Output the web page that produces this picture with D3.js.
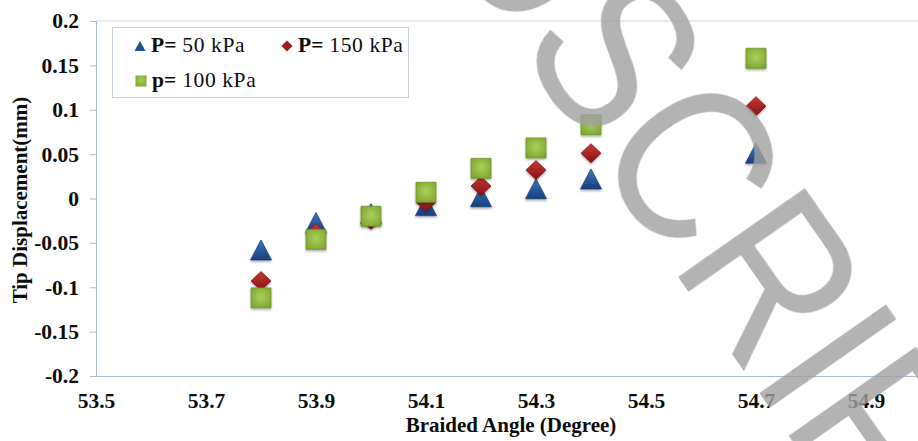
<!DOCTYPE html>
<html>
<head>
<meta charset="utf-8">
<script src="https://cdn.jsdelivr.net/npm/d3@7"></script>
<style>
  body { margin: 0; background: #fff; }
  svg { display: block; }
</style>
</head>
<body>
<svg id="chart" width="918" height="441"></svg>
<script>
// Braided angle (degree) of each sample
const angles = [53.8, 53.9, 54.0, 54.1, 54.2, 54.3, 54.4, 54.7];
// Tip displacement (mm) per pressure level
const p50  = [-0.058, -0.027, -0.017, -0.008, 0.002, 0.011, 0.022, 0.051];
const p150 = [-0.093, -0.039, -0.024, -0.004, 0.014, 0.032, 0.051, 0.104];
const p100 = [-0.112, -0.046, -0.020, 0.007, 0.034, 0.057, 0.083, 0.158];

const xTicks = [53.5, 53.7, 53.9, 54.1, 54.3, 54.5, 54.7, 54.9];
const yTicks = [-0.2, -0.15, -0.1, -0.05, 0, 0.05, 0.1, 0.15, 0.2];
const xDomain = [53.5, 55.0];
const yDomain = [-0.2, 0.2];

const legendBold = ["P=", "P=", "p="];
const legendText = [" 50 kPa", " 150 kPa", " 100 kPa"];
const xTitle = "Braided Angle (Degree)";
const yTitle = "Tip Displacement(mm)";
const watermark = "MANUSCRIPT";

const svg = d3.select("#chart");
const plotLeft = 96, plotTop = 21, plotBottom = 376;

const x = d3.scaleLinear().domain(xDomain).range([plotLeft, plotLeft + 825]);
const y = d3.scaleLinear().domain(yDomain).range([plotBottom, plotTop]);

const serif = "'Liberation Serif', 'Times New Roman', serif";
const axisColor = "#a8bbd6";

// ---- gradients & shadow ----
const defs = svg.append("defs");
const triG = defs.append("linearGradient").attr("id", "triG").attr("x1", 0).attr("y1", 0).attr("x2", 0).attr("y2", 1);
triG.append("stop").attr("offset", "0%").attr("stop-color", "#3a78c4");
triG.append("stop").attr("offset", "100%").attr("stop-color", "#183f7c");
const diaG = defs.append("linearGradient").attr("id", "diaG").attr("x1", 0).attr("y1", 0).attr("x2", 0).attr("y2", 1);
diaG.append("stop").attr("offset", "0%").attr("stop-color", "#c93737");
diaG.append("stop").attr("offset", "100%").attr("stop-color", "#861313");
const sqG = defs.append("radialGradient").attr("id", "sqG").attr("cx", "50%").attr("cy", "45%").attr("r", "70%");
sqG.append("stop").attr("offset", "0%").attr("stop-color", "#a9d159");
sqG.append("stop").attr("offset", "100%").attr("stop-color", "#7aa12c");
const sh = defs.append("filter").attr("id", "shadow").attr("x", "-30%").attr("y", "-30%").attr("width", "160%").attr("height", "160%");
sh.append("feDropShadow").attr("dx", 0).attr("dy", 1.5).attr("stdDeviation", 1).attr("flood-color", "#000").attr("flood-opacity", 0.35);

// ---- axes ----
svg.append("line")
  .attr("x1", x(xDomain[0])).attr("x2", x(xDomain[1]))
  .attr("y1", y(yDomain[1])).attr("y2", y(yDomain[1]))
  .attr("stroke", "#cdd8e8").attr("stroke-width", 1);

const fmtY = d => d === 0 ? "0" : String(+d.toFixed(2));

const gy = svg.append("g").attr("transform", `translate(${plotLeft},0)`)
  .call(d3.axisLeft(y).tickValues(yTicks).tickFormat(fmtY).tickSize(6).tickSizeOuter(0).tickPadding(11));
gy.select(".domain").attr("stroke", axisColor);
gy.selectAll(".tick line").attr("stroke", axisColor);
gy.selectAll(".tick text").attr("font-family", serif).attr("font-size", 21.5).attr("font-weight", "bold").attr("fill", "#0d0d0d");

const gx = svg.append("g").attr("transform", `translate(0,${plotBottom})`)
  .call(d3.axisBottom(x).tickValues(xTicks).tickFormat(d => d.toFixed(1)).tickSize(0).tickSizeOuter(0).tickPadding(17));
gx.select(".domain").attr("stroke", axisColor);
gx.selectAll(".tick text").attr("font-family", serif).attr("font-size", 21.5).attr("font-weight", "bold").attr("fill", "#0d0d0d");

svg.append("text")
  .attr("x", 511).attr("y", 432).attr("text-anchor", "middle")
  .attr("font-family", serif).attr("font-size", 21).attr("font-weight", "bold").attr("fill", "#0d0d0d")
  .text(xTitle);

svg.append("text")
  .attr("transform", "translate(27,200) rotate(-90)").attr("text-anchor", "middle")
  .attr("font-family", serif).attr("font-size", 21).attr("font-weight", "bold").attr("fill", "#0d0d0d")
  .text(yTitle);

// ---- marker shapes ----
const triPath = (w, h) => `M0,${-h / 2}L${w / 2},${h / 2}L${-w / 2},${h / 2}Z`;
const diaPath = (w, h) => `M0,${-h / 2}L${w / 2},0L0,${h / 2}L${-w / 2},0Z`;
const sqPath = (s) => `M${-s / 2},${-s / 2}h${s}v${s}h${-s}Z`;

const series = [
  { vals: p50,  path: triPath(21, 20), fill: "url(#triG)", stroke: "#173a6e" },
  { vals: p150, path: diaPath(20, 19), fill: "url(#diaG)", stroke: "#7a1111" },
  { vals: p100, path: sqPath(20),      fill: "url(#sqG)",  stroke: "#6a8f24" }
];

series.forEach(s => {
  svg.append("g").attr("filter", "url(#shadow)")
    .selectAll("path").data(angles.map((a, i) => [a, s.vals[i]])).join("path")
    .attr("transform", d => `translate(${x(d[0])},${y(d[1])})`)
    .attr("d", s.path)
    .attr("fill", s.fill).attr("stroke", s.stroke).attr("stroke-width", 0.7);
});

// ---- legend ----
const lg = svg.append("g");
lg.append("rect").attr("x", 112.5).attr("y", 27.5).attr("width", 296).attr("height", 70)
  .attr("fill", "#fff").attr("stroke", "#c6d0de").attr("stroke-width", 1);

const legendPos = [[140, 46], [287, 46], [141, 81]];
const legendShapes = [
  { path: triPath(11, 10), fill: "#1f4f96" },
  { path: diaPath(11, 11), fill: "#9e1c1c" },
  { path: sqPath(11),      fill: "url(#sqG)" }
];
legendPos.forEach((p, i) => {
  lg.append("path").attr("transform", `translate(${p[0]},${p[1]})`)
    .attr("d", legendShapes[i].path).attr("fill", legendShapes[i].fill);
  const t = lg.append("text").attr("x", p[0] + 11).attr("y", p[1] + 6)
    .attr("font-family", serif).attr("font-size", 21.5).attr("fill", "#0d0d0d");
  t.append("tspan").attr("font-weight", "bold").text(legendBold[i]);
  t.append("tspan").attr("letter-spacing", 0.6).text(legendText[i]);
});

// ---- diagonal watermark ----
const wm = svg.append("g")
  .attr("transform", "translate(669,264) rotate(55) scale(0.86,1)")
  .attr("opacity", 0.8);
const wt = wm.append("text")
  .attr("x", 0).attr("y", 0)
  .attr("font-family", "'Liberation Sans', Arial, sans-serif")
  .attr("font-size", 225).attr("fill", "#a0a0a0")
  .text(watermark);
const off = wt.node().getStartPositionOfChar(6).x;
wt.attr("x", -off);
</script>
</body>
</html>
